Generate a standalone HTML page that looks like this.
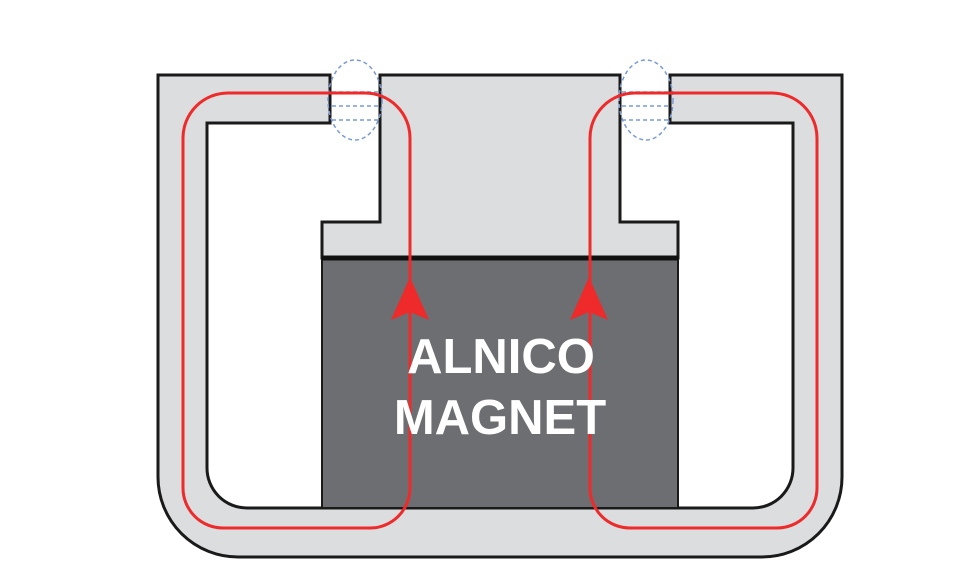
<!DOCTYPE html>
<html><head><style>html,body{margin:0;padding:0;background:#fff;}svg{display:block;}</style></head>
<body>
<svg width="980" height="581" viewBox="0 0 980 581" xmlns="http://www.w3.org/2000/svg">
<path d="M158,75 H330 V123 H207 V468 A40,40 0 0 0 247,508 H753 A40,40 0 0 0 793,468 V123 H670 V75 H842 V477 A80,80 0 0 1 762,557 H238 A80,80 0 0 1 158,477 Z" fill="#dcdddf" stroke="#1a1a1a" stroke-width="3"/>
<path d="M380,75 H620 V222 H678 V258 H322 V222 H380 Z" fill="#dcdddf" stroke="#1a1a1a" stroke-width="3"/>
<rect x="322" y="258" width="356" height="250" fill="#6d6e71" stroke="#1a1a1a" stroke-width="2"/>
<line x1="322" y1="258" x2="678" y2="258" stroke="#111" stroke-width="5"/>
<g fill="none" stroke="#7a9ad6" stroke-width="1.5" stroke-dasharray="4,3">
<ellipse cx="355" cy="100" rx="27" ry="40"/>
<line x1="332" y1="92" x2="380" y2="92"/><line x1="332" y1="106" x2="380" y2="106"/><line x1="332" y1="120" x2="380" y2="120"/>
<ellipse cx="646" cy="100" rx="27" ry="40"/>
<line x1="622" y1="92" x2="670" y2="92"/><line x1="622" y1="106" x2="670" y2="106"/><line x1="622" y1="120" x2="670" y2="120"/>
</g>
<g fill="none" stroke="#ee2a2a" stroke-width="3">
<path d="M410,470 V138 A45,45 0 0 0 365,93 H228 A45,45 0 0 0 183,138 V488 A40,40 0 0 0 223,528 H370 A40,40 0 0 0 410,488 Z"/>
<path d="M590,470 V138 A45,45 0 0 1 635,93 H772 A45,45 0 0 1 817,138 V488 A40,40 0 0 1 777,528 H630 A40,40 0 0 1 590,488 Z"/>
</g>
<polygon points="410,277 391,320 410,312 429,320" fill="#ee2a2a"/>
<polygon points="589,277 570,320 589,312 608,320" fill="#ee2a2a"/>
<g font-family="Liberation Sans, sans-serif" font-weight="bold" font-size="49" fill="#fff" text-anchor="middle">
<text x="501" y="373">ALNICO</text>
<text x="500" y="434">MAGNET</text>
</g>
</svg>
</body></html>
